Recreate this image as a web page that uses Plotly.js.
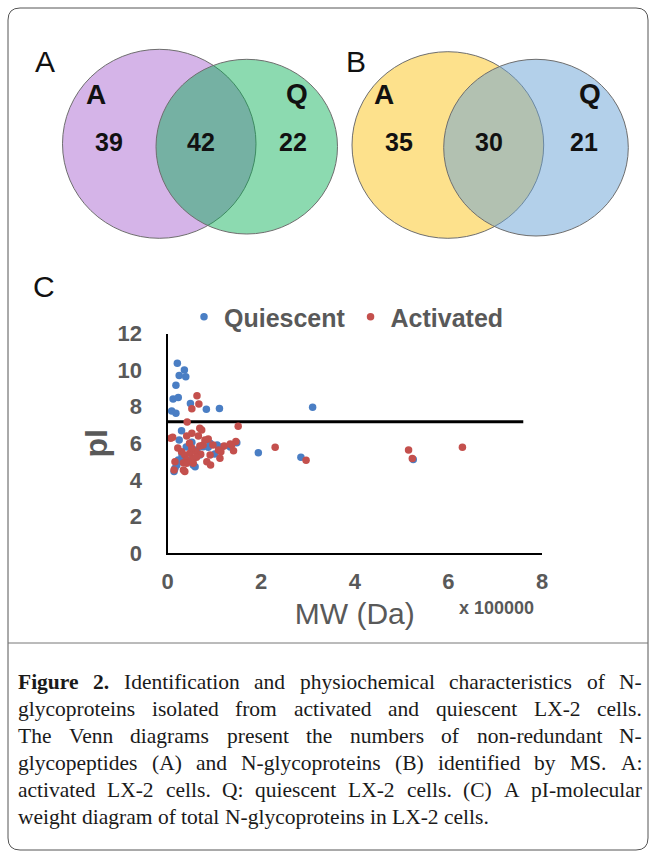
<!DOCTYPE html>
<html><head><meta charset="utf-8">
<script src="https://cdn.plot.ly/plotly-3.0.1.min.js"></script>
<style>html,body{margin:0;padding:0;background:#fff}#chart{width:654px;height:856px}</style>
</head><body><div id="chart"></div>
<script>
// ---------------- DATA ----------------
const seriesNames = ['Quiescent', 'Activated'];
// MW in units of 100000 Da, pI
const quiescentMW = [0.21,0.36,0.25,0.39,0.18,0.12,0.23,0.09,0.18,0.49,0.83,1.11,3.10,0.30,0.52,0.87,1.06,0.76,0.91,1.48,1.94,2.85,5.25,0.23,0.16,0.20,0.55,0.14,0.59,1.16,0.40,0.69,0.48,1.34,0.31,0.63,0.37,1.01,0.25];
const quiescentPI = [10.37,10.0,9.70,9.64,9.17,8.42,8.50,7.76,7.64,8.17,7.86,7.90,7.97,6.69,6.05,5.78,5.90,5.81,6.0,6.03,5.48,5.23,5.11,5.08,4.63,4.81,4.81,4.45,4.72,5.80,5.80,5.36,5.08,5.80,5.36,5.63,5.08,5.41,6.18];
const activatedMW = [0.63,0.67,0.52,0.42,1.51,0.69,0.73,0.11,0.07,0.52,0.41,0.66,0.87,0.47,0.76,0.69,1.21,1.34,1.46,1.09,1.14,1.41,1.37,2.30,2.96,0.30,0.37,0.48,0.61,0.71,0.55,0.62,0.41,1.12,0.16,0.34,0.41,0.84,0.92,0.55,0.14,0.37,0.34,5.15,5.23,6.30,0.97,0.22,0.52,0.80,0.91];
const activatedPI = [8.60,8.15,7.89,7.16,6.93,6.82,6.72,6.33,6.27,6.54,6.40,6.40,6.23,6.00,5.90,5.85,5.85,5.96,6.09,5.63,5.54,5.59,5.90,5.78,5.07,5.54,5.36,5.45,5.54,5.40,5.18,5.23,5.08,5.18,4.99,4.94,4.90,4.99,4.81,4.90,4.54,4.45,4.54,5.63,5.17,5.78,5.90,5.74,5.74,6.18,5.36];
const thresholdMW = [0, 7.6];
const thresholdPI = [7.18, 7.18];
const xTickVals = [0, 2, 4, 6, 8];
const yTickVals = [0, 2, 4, 6, 8, 10, 12];
const vennACounts = [39, 42, 22];   // A only, A∩Q, Q only (N-glycopeptides)
const vennBCounts = [35, 30, 21];   // A only, A∩Q, Q only (N-glycoproteins)
const vennSetLabels = ['A', 'Q'];
const panelLabels = ['A', 'B', 'C'];
const captionLines = [
  'Figure 2. Identification and physiochemical characteristics of N-',
  'glycoproteins isolated from activated and quiescent LX-2 cells.',
  'The Venn diagrams present the numbers of non-redundant N-',
  'glycopeptides (A) and N-glycoproteins (B) identified by MS. A:',
  'activated LX-2 cells. Q: quiescent LX-2 cells. (C) A pI-molecular',
  'weight diagram of total N-glycoproteins in LX-2 cells.'
];

// ---------------- LAYOUT (pixel geometry) ----------------
const W = 654, H = 856;
const SANS = 'Liberation Sans, Arial, sans-serif';
const SERIF = 'Liberation Serif, Times New Roman, serif';
const GREY = '#595959';
const plotL = 167.5, plotR = 542, plotB = 553, plotT = 333.5;
const vennEllipses = [
  {x0: 62.5, x1: 256, y0: 49.3, y1: 238.3, fill: '#D5B4E8'},
  {x0: 156, x1: 337.5, y0: 59.3, y1: 234, fill: 'rgba(0,173,80,0.45)'},
  {x0: 352, x1: 543.7, y0: 51.7, y1: 238.3, fill: '#FDE18C'},
  {x0: 443.7, x1: 628.3, y0: 59.3, y1: 236, fill: 'rgba(103,161,213,0.5)'}
];
const vennNumX = {A: [109, 201, 293], B: [399, 489, 584]};
const vennNumY = 145;
const vennLabelPos = [[96, 94], [297, 93], [384, 94], [590, 93]];
const panelPos = [[45, 61], [356, 61], [44, 286]];

const traces = [
  {x: thresholdMW, y: thresholdPI, mode: 'lines', line: {color: '#000', width: 3},
   showlegend: false, hoverinfo: 'skip', xaxis: 'x', yaxis: 'y'},
  {x: quiescentMW, y: quiescentPI, name: seriesNames[0], mode: 'markers', type: 'scatter',
   marker: {color: '#4A7EC4', size: 7.5}, cliponaxis: false, xaxis: 'x', yaxis: 'y'},
  {x: activatedMW, y: activatedPI, name: seriesNames[1], mode: 'markers', type: 'scatter',
   marker: {color: '#C4504D', size: 7.5}, cliponaxis: false, xaxis: 'x', yaxis: 'y'},
  {x: vennNumX.A.concat(vennNumX.B), y: Array(6).fill(vennNumY),
   text: vennACounts.concat(vennBCounts).map(String), mode: 'text', showlegend: false,
   textfont: {family: SANS, size: 25, color: '#111', weight: 'bold'}, textposition: 'middle center',
   hoverinfo: 'skip', xaxis: 'x2', yaxis: 'y2', cliponaxis: false}
];

const shapes = [];
// outer rounded frame
const r = 12, fx0 = 8, fx1 = 648, fy0 = 8, fy1 = 850;
shapes.push({type: 'path', xref: 'x2', yref: 'y2', layer: 'below',
  path: `M ${fx0 + r},${fy0} L ${fx1 - r},${fy0} Q ${fx1},${fy0} ${fx1},${fy0 + r} L ${fx1},${fy1 - r} Q ${fx1},${fy1} ${fx1 - r},${fy1} L ${fx0 + r},${fy1} Q ${fx0},${fy1} ${fx0},${fy1 - r} L ${fx0},${fy0 + r} Q ${fx0},${fy0} ${fx0 + r},${fy0} Z`,
  line: {color: '#555', width: 1}, fillcolor: 'rgba(0,0,0,0)'});
shapes.push({type: 'line', xref: 'x2', yref: 'y2', x0: fx0, x1: fx1, y0: 643, y1: 643, line: {color: '#777', width: 1}});
vennEllipses.forEach(e => shapes.push({type: 'circle', xref: 'x2', yref: 'y2', layer: 'below',
  x0: e.x0, x1: e.x1, y0: e.y0, y1: e.y1, fillcolor: e.fill, line: {color: '#6e6e6e', width: 1}}));

const annotations = [];
panelLabels.forEach((t, i) => annotations.push({xref: 'x2', yref: 'y2', x: panelPos[i][0], y: panelPos[i][1],
  text: t, showarrow: false, font: {family: SANS, size: 30, color: '#111'}, xanchor: 'center', yanchor: 'middle'}));
vennLabelPos.forEach((p, i) => annotations.push({xref: 'x2', yref: 'y2', x: p[0], y: p[1],
  text: vennSetLabels[i % 2], showarrow: false, font: {family: SANS, size: 28, color: '#111', weight: 'bold'},
  xanchor: 'center', yanchor: 'middle'}));
annotations.push({xref: 'x2', yref: 'y2', x: 496, y: 608, text: 'x 100000', showarrow: false,
  font: {family: SANS, size: 18, color: GREY, weight: 'bold'}, xanchor: 'center', yanchor: 'middle'});

// caption: justified lines, word widths measured with canvas
const capLeft = 17, capRight = 641, capY0 = 682, capLH = 27, capSize = 21.5;
const ctx = document.createElement('canvas').getContext('2d');
function wordWidth(t, bold) { ctx.font = (bold ? 'bold ' : '') + capSize + 'px "Liberation Serif"'; return ctx.measureText(t).width; }
captionLines.forEach((line, li) => {
  const words = line.split(' ');
  const bolds = words.map((w, wi) => li === 0 && wi < 2);
  const widths = words.map((w, wi) => wordWidth(w, bolds[wi]));
  const total = widths.reduce((a, b) => a + b, 0);
  const last = li === captionLines.length - 1;
  const gap = last ? wordWidth(' ', false) : (capRight - capLeft - total) / (words.length - 1);
  let x = capLeft;
  words.forEach((w, wi) => {
    annotations.push({xref: 'x2', yref: 'y2', x: x, y: capY0 + li * capLH,
      text: bolds[wi] ? '<b>' + w + '</b>' : w, showarrow: false, borderpad: 0,
      font: {family: SERIF, size: capSize, color: '#1a1a1a'}, xanchor: 'left', yanchor: 'middle'});
    x += widths[wi] + gap;
  });
});

const tickFont = {family: SANS, size: 22, color: GREY, weight: 'bold'};
const layout = {
  width: W, height: H, margin: {l: 0, r: 0, t: 0, b: 0},
  paper_bgcolor: '#fff', plot_bgcolor: 'rgba(0,0,0,0)',
  showlegend: true,
  legend: {orientation: 'h', x: 184 / W, y: 1 - 317 / H, xanchor: 'left', yanchor: 'middle',
    font: {family: SANS, size: 25, color: GREY, weight: 'bold'}, itemwidth: 30, bgcolor: 'rgba(0,0,0,0)'},
  xaxis: {domain: [plotL / W, plotR / W], range: [0, 8], tickvals: xTickVals, showline: true,
    linecolor: '#000', linewidth: 2, showgrid: false, zeroline: false, ticks: 'outside', ticklen: 8,
    tickcolor: 'rgba(0,0,0,0)', tickfont: tickFont, fixedrange: true, anchor: 'y',
    title: {text: 'MW (Da)', font: {family: SANS, size: 30, color: GREY}, standoff: 10}},
  yaxis: {domain: [1 - plotB / H, 1 - plotT / H], range: [0, 12], tickvals: yTickVals, showline: true,
    linecolor: '#000', linewidth: 2, showgrid: false, zeroline: false, ticks: 'outside', ticklen: 19,
    tickcolor: 'rgba(0,0,0,0)', tickfont: tickFont, fixedrange: true, anchor: 'x',
    title: {text: 'pI', font: {family: SANS, size: 32, color: GREY, weight: 'bold'}, standoff: 0}},
  xaxis2: {domain: [0, 1], range: [0, W], visible: false, fixedrange: true, anchor: 'y2'},
  yaxis2: {domain: [0, 1], range: [H, 0], visible: false, fixedrange: true, anchor: 'x2'},
  shapes: shapes, annotations: annotations
};
Plotly.newPlot('chart', traces, layout, {staticPlot: true, displayModeBar: false});
</script></body></html>
